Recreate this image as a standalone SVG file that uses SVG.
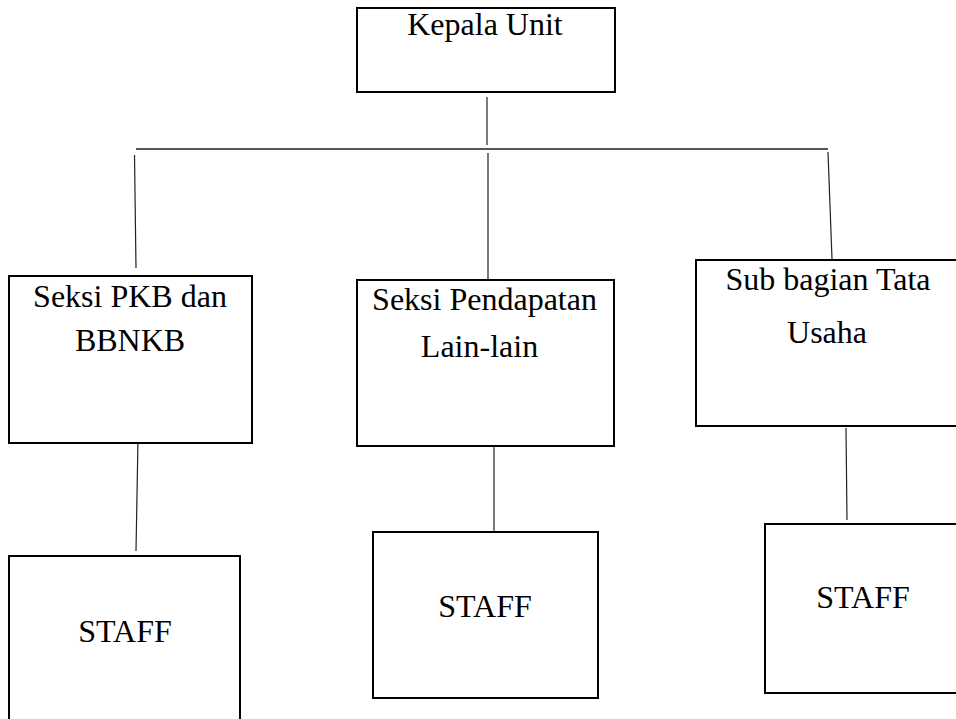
<svg xmlns="http://www.w3.org/2000/svg" width="956" height="719" viewBox="0 0 956 719">
<style>
.box{fill:#fff;stroke:#000;stroke-width:2}
.t{font-family:"Liberation Serif","Times New Roman",serif;font-size:32px;fill:#000;text-anchor:middle}
.c{stroke:#222;stroke-width:1.2;fill:none}
.h{stroke:#555;stroke-width:2;fill:none}
</style>
<rect width="956" height="719" fill="#fff"/>
<g id="connectors">
<line class="c" x1="487" y1="97" x2="487" y2="145"/>
<line class="h" x1="136" y1="149" x2="828" y2="149"/>
<line class="c" x1="488" y1="153" x2="488" y2="280"/>
<line class="c" x1="134.5" y1="155" x2="136" y2="268"/>
<line class="c" x1="828" y1="152" x2="832" y2="259"/>
<line class="c" x1="138" y1="439" x2="136" y2="551"/>
<line class="c" x1="494" y1="439" x2="494" y2="532"/>
<line class="c" x1="846" y1="428" x2="847" y2="520"/>
</g>
<g id="kepala">
<rect class="box" x="357" y="8" width="258" height="84"/>
<text class="t" x="485" y="35">Kepala Unit</text>
</g>
<g id="seksi-pkb">
<rect class="box" x="9" y="276" width="243" height="167"/>
<text class="t" x="130" y="307">Seksi PKB dan</text>
<text class="t" x="130" y="351">BBNKB</text>
</g>
<g id="seksi-pendapatan">
<rect class="box" x="357" y="280" width="257" height="166"/>
<text class="t" x="484.5" y="310">Seksi Pendapatan</text>
<text class="t" x="479.5" y="357">Lain-lain</text>
</g>
<g id="sub-bagian">
<rect class="box" x="696" y="260" width="262" height="166"/>
<text class="t" x="828" y="290">Sub bagian Tata</text>
<text class="t" x="827" y="343">Usaha</text>
</g>
<g id="staff1">
<rect class="box" x="9" y="556" width="231" height="180"/>
<text class="t" x="125" y="642">STAFF</text>
</g>
<g id="staff2">
<rect class="box" x="373" y="532" width="225" height="166"/>
<text class="t" x="485" y="617">STAFF</text>
</g>
<g id="staff3">
<rect class="box" x="765" y="524" width="200" height="169"/>
<text class="t" x="863" y="608">STAFF</text>
</g>
</svg>
